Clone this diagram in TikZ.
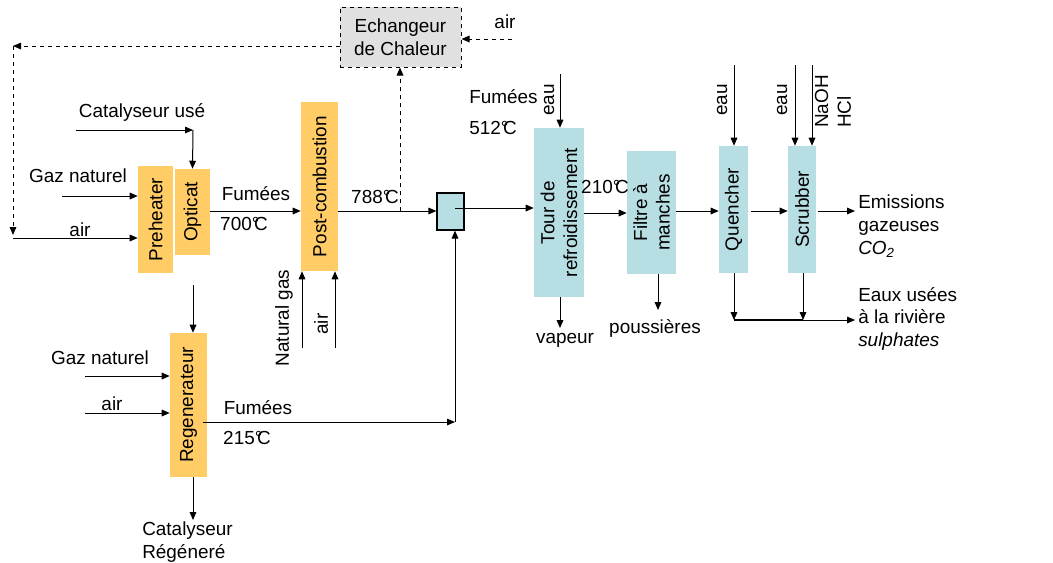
\documentclass[tikz,border=0pt]{standalone}
\usepackage{fontspec}
\setmainfont{Liberation Sans}
\usetikzlibrary{arrows.meta,fit}
\definecolor{orng}{RGB}{255,204,102}
\definecolor{lblue}{RGB}{183,222,226}
\definecolor{lgray}{RGB}{224,224,224}
\newcommand{\degC}{°\kern-0.28em C}
\begin{document}
\begin{tikzpicture}[x=0.75pt,y=-0.75pt,
  every node/.style={font=\fontsize{14.2}{17}\selectfont, inner sep=0pt},
  obox/.style={fill=orng, draw=none, inner sep=0pt},
  bbox/.style={fill=lblue, draw=none, inner sep=0pt},
  mixbox/.style={fill=lblue, draw=black, line width=0.9pt, inner sep=0pt},
  ebox/.style={fill=lgray, draw=black, dashed, line width=0.75pt, inner sep=0pt},
  arr/.style={-{Triangle[length=6pt,width=5pt]}, line width=0.75pt},
  vtext/.style={rotate=90, align=center}
]
\useasboundingbox (0,0) rectangle (1053,562);

% boxes
\node[ebox, fit={(340,7) (461,67)}] (ech) {};
\node[align=center] at (ech.center) {Echangeur\\de Chaleur};
\node[obox, fit={(138,166) (173,273)}, label={[vtext]center:Preheater}] (pre) {};
\node[obox, fit={(175,169) (210,255)}, label={[vtext]center:Opticat}] (opt) {};
\node[obox, fit={(301,102) (338,271)}, label={[vtext]center:Post-combustion}] (post) {};
\node[mixbox, fit={(437,193) (464,230)}] (mix) {};
\node[bbox, fit={(534,128) (584,297)}, label={[vtext]center:Tour de\\refroidissement}] (tour) {};
\node[bbox, fit={(627,151) (676,274)}, label={[vtext]center:Filtre à\\manches}] (filt) {};
\node[bbox, fit={(719,146) (748,273)}, label={[vtext]center:Quencher}] (quen) {};
\node[bbox, fit={(788,146) (816,273)}, label={[vtext]center:Scrubber}] (scrub) {};
\node[obox, fit={(170,333) (207,477)}, label={[vtext]center:Regenerateur}] (regen) {};

% coordinates
\coordinate (cu1) at (76,130);
\coordinate (cu2) at (193,130);
\coordinate (gn1) at (62,196);
\coordinate (ai0) at (13,238);
\coordinate (dl) at (13,46);
\coordinate (dd) at (13,235);
\coordinate (ea1) at (512,39);
\coordinate (up1) at (400,211);
\coordinate (ng1) at (302,348);
\coordinate (na1) at (335,348);
\coordinate (rg0) at (193,285);
\coordinate (rgn) at (85,376);
\coordinate (rga) at (85,413);
\coordinate (rgo) at (203,422);
\coordinate (rgc) at (455,422);
\coordinate (rgd) at (193,520);
\coordinate (te) at (560,74);
\coordinate (tv) at (560,328);
\coordinate (fp) at (658,310);
\coordinate (qe) at (734,65);
\coordinate (se) at (795,65);
\coordinate (sn) at (812,65);
\coordinate (em) at (855,211);
\coordinate (qd) at (734,320);
\coordinate (sd) at (803,320);
\coordinate (eu) at (855,320);

% connectors
\draw[arr] (cu1) -- (cu2);
\draw[arr] (cu2) -- (opt.north);
\draw[arr] (gn1) -- (gn1 -| pre.west);
\draw[arr] (ai0) -- (ai0 -| pre.west);
\draw[arr, dashed] (dl -| ech.west) -- (dl);
\draw[arr, dashed] (dl) -- (dd);
\draw[arr, dashed] (ea1) -- (ea1 -| ech.east);
\draw[arr, dashed] (up1) -- (up1 |- ech.south);
\draw[arr] (opt.east |- up1) -- (post.west |- up1);
\draw[arr] (post.east |- up1) -- (mix.west |- up1);
\draw[arr] (rgc |- 0,208) -- (tour.west |- 0,208);
\draw[arr] (ng1) -- (ng1 |- post.south);
\draw[arr] (na1) -- (na1 |- post.south);
\draw[arr] (rg0) -- (rg0 |- regen.north);
\draw[arr] (rgn) -- (rgn -| regen.west);
\draw[arr] (rga) -- (rga -| regen.west);
\draw[arr] (rgo) -- (rgc);
\draw[arr] (rgc) -- (rgc |- mix.south);
\draw[arr] (rgd |- regen.south) -- (rgd);
\draw[arr] (te) -- (te |- tour.north);
\draw[arr] (tv |- tour.south) -- (tv);
\draw[arr] (tour.east |- 0,213) -- (filt.west |- 0,213);
\draw[arr] (fp |- filt.south) -- (fp);
\draw[arr] (filt.east |- em) -- (quen.west |- em);
\draw[arr] ([xshift=2pt]quen.east |- em) -- (scrub.west |- em);
\draw[arr] ([xshift=1.5pt]scrub.east |- em) -- (em);
\draw[arr] (qe) -- (qe |- quen.north);
\draw[arr] (se) -- (se |- scrub.north);
\draw[arr] (sn) -- (sn |- scrub.north);
\draw[arr] (qd |- quen.south) -- (qd);
\draw[arr] (sd |- scrub.south) -- (sd);
\draw[line width=1.6pt] (qd) -- (sd);
\draw[arr] (sd) -- (eu);

% labels
\node at (505,22) (tair) {air};
\node at (142,112) (tcu) {Catalyseur usé};
\node at (78,176) (tgn) {Gaz naturel};
\node at (80,230) (tair2) {air};
\node at (256,194) (tf1) {Fumées};
\node at (244,224) (t700) {700\degC};
\node at (375,197) (t788) {788\degC};
\node[rotate=90] at (284,318) (tng) {Natural gas};
\node[rotate=90] at (321,324) (tna) {air};
\node at (100,358) (trgn) {Gaz naturel};
\node at (112,404) (trga) {air};
\node at (258,408) (tf2) {Fumées};
\node at (247,438) (t215) {215\degC};
\node[anchor=north west, align=left] at (142,522) (tcr) {Catalyseur\\Régéneré};
\node[anchor=west] at (469,97) (tf3) {Fumées};
\node[anchor=west] at (469,128) (t512) {512\degC};
\node[rotate=90] at (549,100) (teau1) {eau};
\node at (565,340) (tvap) {vapeur};
\node at (605,187) (t210) {210\degC};
\node at (655,328) (tpou) {poussières};
\node[rotate=90] at (722,100) (teau2) {eau};
\node[rotate=90] at (782,100) (teau3) {eau};
\node[rotate=90, align=left, anchor=west] at (833,128) (tnaoh) {NaOH\\HCl};
\node[anchor=north west, align=left] at (858,195) (temi) {Emissions\\gazeuses\\\textit{CO\textsubscript{2}}};
\node[anchor=north west, align=left] at (858,287) (teau) {Eaux usées\\à la rivière\\\textit{sulphates}};
\end{tikzpicture}
\end{document}
